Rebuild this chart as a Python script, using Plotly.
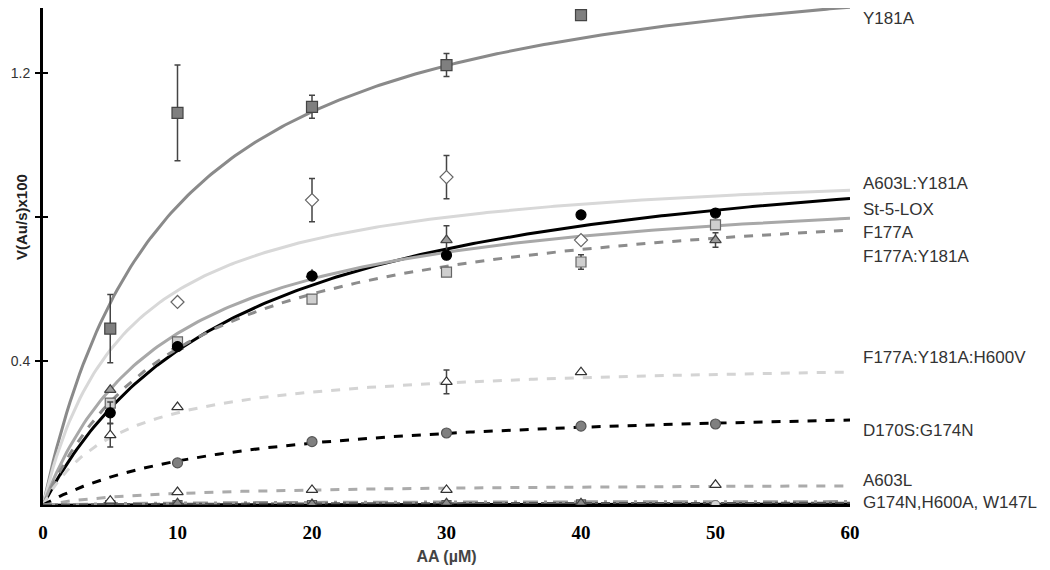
import numpy as np
import plotly.graph_objects as go

# ---- data ----
series_names = ["Y181A", "A603L:Y181A", "St-5-LOX", "F177A", "F177A:Y181A",
                "F177A:Y181A:H600V", "D170S:G174N", "A603L",
                "G174N", "H600A", "W147L"]
# Michaelis-Menten fit parameters
vmax = [1.595, 0.965, 1.06, 0.92, 0.90, 0.405, 0.29, 0.061, 0.003, 0.011, 0.007]
km = [9.2, 6.2, 14.7, 9.3, 10.7, 5.8, 13.7, 9.0, 10.0, 10.0, 10.0]

# measured points
y181a_x = [5, 10, 20, 30, 40]
y181a_y = [0.49, 1.089, 1.106, 1.222, 1.361]
y181a_e = [0.095, 0.133, 0.032, 0.032, 0.0]

a603l_y181a_x = [10, 20, 30, 40]
a603l_y181a_y = [0.564, 0.847, 0.911, 0.736]
a603l_y181a_e = [0.0, 0.06, 0.06, 0.0]

st5lox_x = [5, 10, 20, 30, 40, 50]
st5lox_y = [0.256, 0.44, 0.636, 0.694, 0.806, 0.811]
st5lox_e = [0.03, 0.0, 0.0, 0.0, 0.0, 0.0]

f177a_x = [5, 10, 20, 30, 50]
f177a_y = [0.32, 0.44, 0.64, 0.736, 0.736]
f177a_e = [0.0, 0.0, 0.0, 0.04, 0.02]

f177a_y181a_x = [5, 10, 20, 30, 40, 50]
f177a_y181a_y = [0.283, 0.453, 0.572, 0.647, 0.675, 0.778]
f177a_y181a_e = [0.0, 0.0, 0.0, 0.0, 0.02, 0.0]

h600v_x = [5, 10, 30, 40]
h600v_y = [0.194, 0.272, 0.342, 0.369]
h600v_e = [0.033, 0.0, 0.033, 0.0]

d170s_x = [10, 20, 30, 40, 50]
d170s_y = [0.117, 0.176, 0.2, 0.219, 0.225]

a603l_x = [5, 10, 20, 30, 50]
a603l_y = [0.012, 0.036, 0.042, 0.042, 0.056]

g174n_x = [5, 10, 20, 30, 40]
g174n_y = [0.006, 0.006, 0.004, 0.006, 0.006]
h600a_x = [50]
h600a_y = [0.0]
w147l_x = [5, 10, 20, 30, 40]
w147l_y = [0.0, 0.0, 0.0, 0.0, 0.002]

label_text = ["Y181A", "A603L:Y181A", "St-5-LOX", "F177A", "F177A:Y181A",
              "F177A:Y181A:H600V", "D170S:G174N", "A603L", "G174N,H600A, W147L"]
label_y = [1.352, 0.894, 0.822, 0.758, 0.689, 0.411, 0.206, 0.067, 0.006]

x_ticks = [0, 10, 20, 30, 40, 50, 60]
y_ticks = [0.4, 0.8, 1.2]
y_ticktext = ["0.4", "", "1.2"]
y_max = 1.3806

# ---- styles ----
line_styles = [
    dict(color="#8a8a8a", width=3, dash="solid"),
    dict(color="#d8d8d8", width=3, dash="solid"),
    dict(color="#000000", width=3, dash="solid"),
    dict(color="#a8a8a8", width=3, dash="solid"),
    dict(color="#8c8c8c", width=3, dash="dash"),
    dict(color="#d4d4d4", width=3, dash="dash"),
    dict(color="#000000", width=3, dash="dash"),
    dict(color="#ababab", width=3, dash="dash"),
    dict(color="#000000", width=2.5, dash="solid"),
    dict(color="#9a9a9a", width=3, dash="longdashdot"),
    dict(color="#555555", width=2, dash="dashdot"),
]

fig = go.Figure()
xs = np.linspace(0, 60, 241)
for name, vm, k, st in zip(series_names, vmax, km, line_styles):
    fig.add_trace(go.Scatter(x=xs, y=vm * xs / (k + xs), mode="lines",
                             line=st, name=name, showlegend=False, hoverinfo="skip"))

def pts(x, y, symbol, fill, edge, size=10, err=None):
    kw = {}
    if err is not None:
        kw["error_y"] = dict(type="data", array=err, visible=True,
                             color="#444", thickness=1.5, width=3)
    fig.add_trace(go.Scatter(x=x, y=y, mode="markers", showlegend=False,
                             marker=dict(symbol=symbol, size=size, color=fill,
                                         line=dict(color=edge, width=1.2)), **kw))

pts(w147l_x, w147l_y, "square", "#9a9a9a", "#555", 9)
pts(g174n_x, g174n_y, "triangle-up", "#8c8c8c", "#444", 9)
pts(h600a_x, h600a_y, "circle", "#d4d4d4", "#777", 9)
pts(a603l_x, a603l_y, "triangle-up", "#ffffff", "#333", 10)
pts(d170s_x, d170s_y, "circle", "#808080", "#555", 10)
pts(h600v_x, h600v_y, "triangle-up", "#ffffff", "#333", 10, h600v_e)
pts(f177a_y181a_x, f177a_y181a_y, "square", "#cfcfcf", "#666", 10, f177a_y181a_e)
pts(f177a_x, f177a_y, "triangle-up", "#9c9c9c", "#444", 10, f177a_e)
pts(st5lox_x, st5lox_y, "circle", "#000000", "#000", 10, st5lox_e)
pts(a603l_y181a_x, a603l_y181a_y, "diamond", "#ffffff", "#666", 10, a603l_y181a_e)
pts(y181a_x, y181a_y, "square", "#7f7f7f", "#444", 11, y181a_e)

# invisible trace for secondary (cross-tick) axis
fig.add_trace(go.Scatter(x=[None], y=[None], yaxis="y2", showlegend=False,
                         hoverinfo="skip", mode="markers"))

for txt, ly in zip(label_text, label_y):
    fig.add_annotation(x=60, y=ly, xref="x", yref="y", text=txt, showarrow=False,
                       xanchor="left", yanchor="middle", xshift=11,
                       font=dict(family="Liberation Sans", size=17, color="#333333"))

# y-axis title placed over the blank 0.8 tick label, as in the original
fig.add_annotation(x=0, y=0.8, xref="paper", yref="y", text="<b>V(Au/s)x100</b>",
                   showarrow=False, textangle=-90, xanchor="center", yanchor="middle",
                   xshift=-22, font=dict(family="Liberation Sans", size=15, color="#222"))

fig.update_layout(
    width=1050, height=570,
    margin=dict(l=35, r=208, t=0, b=73, autoexpand=False),
    plot_bgcolor="white", paper_bgcolor="white",
    showlegend=False,
    xaxis=dict(range=[0, 60], tickvals=x_ticks, showgrid=False, zeroline=False,
               showline=True, linecolor="black", linewidth=2, ticks="",
               automargin=False, ticklabelstandoff=9,
               tickfont=dict(family="Liberation Serif", size=19, color="black", weight="bold"),
               title=dict(text="AA (µM)", standoff=9,
                          font=dict(family="Liberation Sans", size=16, color="#444", weight="bold"))),
    yaxis=dict(range=[0, y_max], tickvals=y_ticks, ticktext=y_ticktext, showgrid=False,
               zeroline=False, showline=True, linecolor="black", linewidth=3,
               ticks="outside", ticklen=5, tickwidth=2, tickcolor="black",
               automargin=False, ticklabelstandoff=2,
               tickfont=dict(family="Liberation Sans", size=14, color="#333")),
    yaxis2=dict(range=[0, y_max], overlaying="y", anchor="x", side="left",
                tickvals=y_ticks, showticklabels=False, ticks="inside", ticklen=5,
                tickwidth=2, tickcolor="black", showgrid=False, zeroline=False,
                showline=False, automargin=False),
)

fig.write_html("out.html")
